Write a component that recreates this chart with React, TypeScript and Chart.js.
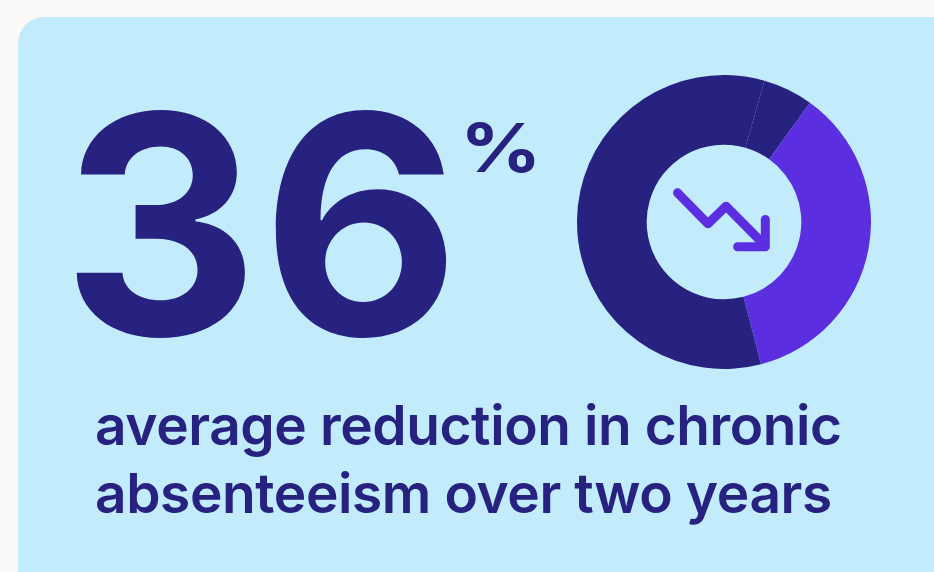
import React, { useEffect, useRef } from "react";
import { Chart, registerables } from "chart.js";

Chart.register(...registerables);

const segmentLabels = ["Remaining (part 1)", "Reduction", "Remaining (part 2)"];
const segmentValues = [5.5, 36, 58.5];
const segmentColors = ["#27217f", "#5b2fe0", "#27217f"];
const headlineValue = "36";
const headlineUnit = "%";
const captionLines = ["average reduction in chronic", "absenteeism over two years"];

const NAVY = "#27217f";
const PURPLE = "#5b2fe0";
const CARD = "#c2ecfc";
const PAGE = "#fcfaf8";

// decorative trend-down arrow drawn in the donut hole (relative to inner radius)
const arrowPlugin = {
  id: "trendArrow",
  afterDraw(chart: any) {
    const meta = chart.getDatasetMeta(0);
    const arc = meta.data[0];
    if (!arc) return;
    const { x, y, innerRadius } = arc.getProps(["x", "y", "innerRadius"], true);
    const s = innerRadius / 77.3;
    const ctx = chart.ctx;
    ctx.save();
    ctx.strokeStyle = PURPLE;
    ctx.lineWidth = 9 * s;
    ctx.lineCap = "round";
    ctx.lineJoin = "round";
    ctx.beginPath();
    ctx.moveTo(x - 46.4 * s, y - 29.2 * s);
    ctx.lineTo(x - 16 * s, y + 1.8 * s);
    ctx.lineTo(x + 2 * s, y - 15.8 * s);
    ctx.lineTo(x + 40.5 * s, y + 23 * s);
    ctx.stroke();
    ctx.beginPath();
    ctx.moveTo(x + 41.3 * s, y - 2.5 * s);
    ctx.lineTo(x + 41.3 * s, y + 24.8 * s);
    ctx.lineTo(x + 13.6 * s, y + 24.8 * s);
    ctx.stroke();
    ctx.restore();
  },
};

function Donut() {
  const ref = useRef<HTMLCanvasElement | null>(null);
  useEffect(() => {
    if (!ref.current) return;
    const chart = new Chart(ref.current, {
      type: "doughnut",
      data: {
        labels: segmentLabels,
        datasets: [
          {
            data: segmentValues,
            backgroundColor: segmentColors,
            borderWidth: 0,
            hoverOffset: 0,
          },
        ],
      },
      options: {
        animation: false,
        responsive: false,
        maintainAspectRatio: false,
        rotation: 16,
        cutout: "52.6%",
        layout: { padding: 0 },
        plugins: {
          legend: { display: false },
          tooltip: { enabled: false },
          title: { display: false },
        },
        events: [],
      },
      plugins: [arrowPlugin],
    });
    return () => chart.destroy();
  }, []);
  return (
    <canvas
      ref={ref}
      width={294}
      height={294}
      style={{ position: "absolute", left: 577 - 18, top: 75 - 17, width: 294, height: 294 }}
    />
  );
}

export default function App() {
  return (
    <div
      style={{
        position: "fixed",
        left: 0,
        top: 0,
        width: 934,
        height: 572,
        overflow: "hidden",
        background: PAGE,
        fontFamily: "Inter, 'Noto Sans', sans-serif",
      }}
    >
      <div
        style={{
          position: "absolute",
          left: 18,
          top: 17,
          width: 940,
          height: 600,
          borderRadius: 26,
          background: CARD,
        }}
      >
        <div
          style={{
            position: "absolute",
            left: 62 - 18,
            top: 72 - 17,
            fontSize: 305,
            lineHeight: "305px",
            fontWeight: 700,
            color: NAVY,
            letterSpacing: 3,
            whiteSpace: "nowrap",
          }}
        >
          {headlineValue}
        </div>
        <div
          style={{
            position: "absolute",
            left: 460 - 18,
            top: 113 - 17,
            fontSize: 68,
            lineHeight: "68px",
            fontWeight: 700,
            color: NAVY,
            whiteSpace: "nowrap",
            transform: "scaleX(1.18)",
            transformOrigin: "0 0",
          }}
        >
          {headlineUnit}
        </div>
        <Donut />
        <div
          style={{
            position: "absolute",
            left: 95 - 18,
            top: 391 - 17,
            fontSize: 55,
            lineHeight: "68px",
            fontWeight: 600,
            letterSpacing: -0.4,
            color: NAVY,
            whiteSpace: "nowrap",
          }}
        >
          {captionLines.map((l, i) => (
            <div key={i}>{l}</div>
          ))}
        </div>
      </div>
    </div>
  );
}
